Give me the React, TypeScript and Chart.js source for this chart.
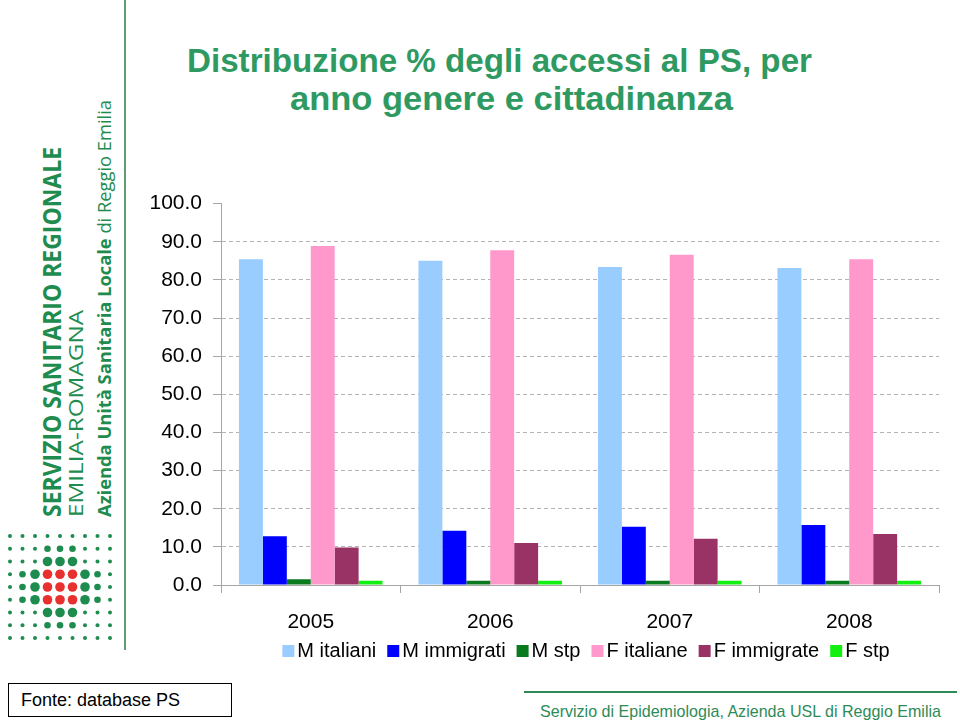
import React, { useEffect, useRef } from "react";
import { Chart, registerables } from "chart.js";

Chart.register(...registerables);

// ---- data ----
const years = ["2005", "2006", "2007", "2008"];
const mItaliani = [85.4, 85.0, 83.4, 83.1];
const mImmigrati = [12.8, 14.2, 15.3, 15.7];
const mStp = [1.5, 1.1, 1.1, 1.1];
const fItaliane = [88.9, 87.8, 86.6, 85.4];
const fImmigrate = [9.8, 11.0, 12.1, 13.4];
const fStp = [1.1, 1.1, 1.1, 1.1];
const seriesNames = ["M italiani", "M immigrati", "M stp", "F italiane", "F immigrate", "F stp"];
const seriesColors = ["#99CCFF", "#0000FF", "#0A7A1E", "#FF99CC", "#993366", "#11F011"];
const yMin = 0;
const yMax = 100;
const yStep = 10;

const GREEN = "#1E8C4E";
const TITLE_GREEN = "#2E9A62";
const FONT = "'Liberation Sans', Arial, sans-serif";

// logo dot grid sizes: s=small, m=medium, L=large green, R=large red
const dotRows = [
  "sssssssss",
  "sssmmmsss",
  "sssLLLsss",
  "smLRRRLms",
  "smLRRRLms",
  "smLRRRLms",
  "sssLLLsss",
  "sssmmmsss",
  "sssssssss",
];

// compact legend drawn under the x axis from the chart's own datasets
const compactLegend = {
  id: "compactLegend",
  afterDraw(chart: any) {
    const ctx = chart.ctx;
    const box = 12;
    const gapBoxText = 3;
    const gapItems = 11;
    ctx.save();
    ctx.font = `20px ${FONT}`;
    ctx.textBaseline = "middle";
    ctx.textAlign = "left";
    const items = chart.data.datasets.map((ds: any) => ({
      text: ds.label,
      color: ds.backgroundColor,
      w: ctx.measureText(ds.label).width,
    }));
    const total =
      items.reduce((a: number, it: any) => a + box + gapBoxText + it.w, 0) +
      gapItems * (items.length - 1);
    const cx = (chart.chartArea.left + chart.chartArea.right) / 2 + 6;
    const cy = chart.chartArea.bottom + 66;
    let x = cx - total / 2;
    items.forEach((it: any) => {
      ctx.fillStyle = it.color;
      ctx.fillRect(x, cy - box / 2, box, box);
      x += box + gapBoxText;
      ctx.fillStyle = "#000";
      ctx.fillText(it.text, x, cy);
      x += it.w + gapItems;
    });
    ctx.restore();
  },
};

function Logo() {
  const dots: React.ReactNode[] = [];
  dotRows.forEach((row, j) => {
    row.split("").forEach((c, i) => {
      const r = c === "s" ? 2.0 : c === "m" ? 3.3 : 4.8;
      dots.push(
        <circle
          key={`${i}-${j}`}
          cx={10 + 12.5 * i}
          cy={536 + 12.75 * j}
          r={r}
          fill={c === "R" ? "#E8302F" : GREEN}
        />
      );
    });
  });
  return (
    <g>
      <line x1={125} y1={0} x2={125} y2={650} stroke="#5E9E72" strokeWidth={2} />
      <text
        transform="translate(61,517) rotate(-90)"
        fontFamily="'Open Sans', 'DejaVu Sans', sans-serif"
        fontWeight="bold"
        fontSize={25}
        fill={GREEN}
        textLength={370}
        lengthAdjust="spacingAndGlyphs"
      >
        SERVIZIO SANITARIO REGIONALE
      </text>
      <text
        transform="translate(83,517) rotate(-90)"
        fontFamily="'Open Sans', 'DejaVu Sans', sans-serif"
        fontSize={20}
        fill={GREEN}
        textLength={207}
        lengthAdjust="spacingAndGlyphs"
      >
        EMILIA-ROMAGNA
      </text>
      <text
        transform="translate(111,517) rotate(-90)"
        fontFamily="'Open Sans', 'DejaVu Sans', sans-serif"
        fontSize={18.5}
        fill={GREEN}
        textLength={417}
        lengthAdjust="spacingAndGlyphs"
      >
        <tspan fontWeight="bold">Azienda Unità Sanitaria Locale</tspan>
        <tspan> di Reggio Emilia</tspan>
      </text>
      {dots}
    </g>
  );
}

export default function App() {
  const ref = useRef<HTMLCanvasElement | null>(null);

  useEffect(() => {
    if (!ref.current) return;
    Chart.defaults.font.family = FONT;
    const seriesValues = [mItaliani, mImmigrati, mStp, fItaliane, fImmigrate, fStp];
    const chart = new Chart(ref.current, {
      type: "bar",
      data: {
        labels: years,
        datasets: seriesNames.map((name, k) => ({
          label: name,
          data: seriesValues[k],
          backgroundColor: seriesColors[k],
          borderWidth: 0,
          categoryPercentage: 0.8,
          barPercentage: 1.0,
        })),
      },
      plugins: [compactLegend],
      options: {
        responsive: false,
        animation: false,
        layout: { padding: { top: 22.7, right: 21, left: 0, bottom: 32 } },
        plugins: {
          legend: { display: false },
          tooltip: { enabled: false },
        },
        scales: {
          x: {
            grid: {
              offset: true,
              drawOnChartArea: false,
              drawTicks: true,
              tickLength: 8,
              color: "#A6A6A6",
            },
            border: { color: "#A6A6A6" },
            ticks: { color: "#000", font: { size: 21 }, padding: 17 },
            afterFit: (s: any) => {
              s.height = 53;
            },
          },
          y: {
            min: yMin,
            max: yMax,
            ticks: {
              stepSize: yStep,
              color: "#000",
              font: { size: 21 },
              padding: 11,
              callback: (v: any) => Number(v).toFixed(1),
            },
            grid: {
              color: (c: any) =>
                c.tick && (c.tick.value === yMin || c.tick.value === yMax)
                  ? "rgba(0,0,0,0)"
                  : "#B4B4B4",
              tickColor: "#A6A6A6",
              tickLength: 8,
            },
            border: { color: "#A6A6A6", dash: [4, 3] },
            afterFit: (s: any) => {
              s.width = 91;
            },
          },
        },
      },
    });
    return () => chart.destroy();
  }, []);

  return (
    <div
      style={{
        position: "absolute",
        left: 0,
        top: 0,
        width: 960,
        height: 724,
        overflow: "hidden",
        background: "#fff",
      }}
    >
      <svg
        width={960}
        height={724}
        style={{ position: "absolute", left: 0, top: 0 }}
      >
        <Logo />
        <text
          x={187}
          y={72}
          fontFamily={FONT}
          fontWeight="bold"
          fontSize={33}
          fill={TITLE_GREEN}
          textLength={625}
          lengthAdjust="spacingAndGlyphs"
        >
          Distribuzione % degli accessi al PS, per
        </text>
        <text
          x={290}
          y={110}
          fontFamily={FONT}
          fontWeight="bold"
          fontSize={33}
          fill={TITLE_GREEN}
          textLength={443}
          lengthAdjust="spacingAndGlyphs"
        >
          anno genere e cittadinanza
        </text>
        <rect x={8.5} y={683.5} width={223} height={33} fill="none" stroke="#000" strokeWidth={1} />
        <text x={21} y={706} fontFamily={FONT} fontSize={18} fill="#000">
          Fonte: database PS
        </text>
        <line x1={524} y1={692} x2={957} y2={692} stroke="#2E8B57" strokeWidth={2} />
        <text
          x={540}
          y={717}
          fontFamily="'Liberation Sans Narrow', 'Liberation Sans', Arial, sans-serif"
          fontSize={17}
          fill="#2E8B57"
          textLength={401}
          lengthAdjust="spacingAndGlyphs"
        >
          Servizio di Epidemiologia, Azienda USL di Reggio Emilia
        </text>
      </svg>
      <canvas
        ref={ref}
        width={830}
        height={490}
        style={{ position: "absolute", left: 130, top: 180, width: 830, height: 490 }}
      />
    </div>
  );
}
